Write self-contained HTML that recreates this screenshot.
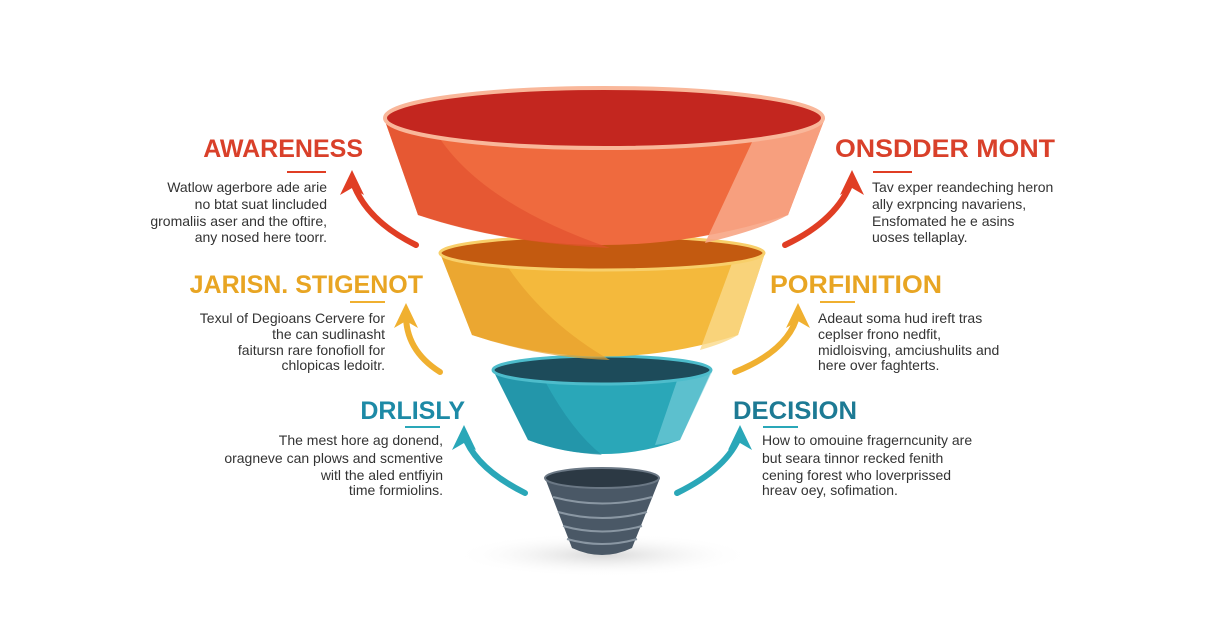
<!DOCTYPE html>
<html><head><meta charset="utf-8"><style>
html,body{margin:0;padding:0;background:#fff;}
svg{display:block}
text{font-family:"Liberation Sans",sans-serif;}
.t{font-weight:bold;font-size:25px;}
.b{font-size:14px;fill:#333;}
</style></head><body>
<svg width="1216" height="640" viewBox="0 0 1216 640" xmlns="http://www.w3.org/2000/svg">
<defs>
<radialGradient id="sh" cx="50%" cy="50%" r="50%"><stop offset="0" stop-color="#d8d8d8"/><stop offset="1" stop-color="#fff" stop-opacity="0"/></radialGradient>
</defs>
<rect width="1216" height="640" fill="#fff"/>
<ellipse cx="603" cy="555" rx="150" ry="22" fill="url(#sh)"/>

<path d="M545 478 L572 548 Q602 562 632 548 L660 478 Z" fill="#4a5866"/>
<g stroke="#8a97a3" stroke-width="2" fill="none">
<path d="M553 497 Q602 510 652 497"/><path d="M558 512 Q602 524 647 512"/><path d="M563 526 Q602 537 642 526"/><path d="M567 539 Q602 549 637 539"/>
</g>
<ellipse cx="602" cy="478" rx="57" ry="10" fill="#2c3944" stroke="#6b7885" stroke-width="2"/>

<path d="M493 370 L528 440 Q602 468 680 440 L712 370 Z" fill="#2aa7b8"/>
<path d="M493 370 L528 440 Q560 452 602 455 Q570 430 540 372 Z" fill="#1f8ba0" opacity="0.6"/>
<path d="M680 372 L655 445 Q670 443 680 440 L712 372 Z" fill="#7fd0dc" opacity="0.6"/>
<ellipse cx="602" cy="370" rx="109" ry="14" fill="#1d4b5a" stroke="#4dbccb" stroke-width="3"/>

<path d="M440 253 L472 335 Q602 378 738 335 L765 253 Z" fill="#f4b93c"/>
<path d="M440 253 L472 335 Q540 358 610 360 Q540 320 500 255 Z" fill="#e79f2c" opacity="0.7"/>
<path d="M735 255 L700 350 Q725 343 738 335 L765 253 Z" fill="#fad98a" opacity="0.8"/>
<ellipse cx="602" cy="253" rx="162" ry="17" fill="#c35a10" stroke="#f8cf6a" stroke-width="3"/>

<path d="M384 118 L418 215 Q602 275 788 215 L825 118 Z" fill="#ef6a3e"/>
<path d="M384 118 L418 215 Q500 243 610 248 Q470 200 430 122 Z" fill="#e2512f" opacity="0.7"/>
<path d="M760 125 L705 243 Q760 230 788 215 L825 118 Z" fill="#f7a585" opacity="0.9"/>
<ellipse cx="604" cy="118" rx="219" ry="30" fill="#c3261f" stroke="#f9b79a" stroke-width="4"/>

<g fill="none" stroke-width="6" stroke-linecap="round">
<path d="M416 245 Q365 220 352 180" stroke="#e03e24"/>
<path d="M785 245 Q838 220 852 180" stroke="#e03e24"/>
<path d="M440 372 Q405 350 406 313" stroke="#f0b030"/>
<path d="M735 372 Q790 350 798 313" stroke="#f0b030"/>
<path d="M525 493 Q475 468 464 435" stroke="#2aa7b8"/>
<path d="M677 493 Q728 468 740 435" stroke="#2aa7b8"/>
</g>
<polygon points="352,170 340,195 352,188 364,195" fill="#e03e24"/>
<polygon points="852,170 840,195 852,188 864,195" fill="#e03e24"/>
<polygon points="406,303 394,328 406,321 418,328" fill="#f0b030"/>
<polygon points="798,303 786,328 798,321 810,328" fill="#f0b030"/>
<polygon points="464,425 452,450 464,443 476,450" fill="#2aa7b8"/>
<polygon points="740,425 728,450 740,443 752,450" fill="#2aa7b8"/>

<g stroke-width="2">
<line x1="287" y1="172" x2="326" y2="172" stroke="#e03e24"/>
<line x1="873" y1="172" x2="912" y2="172" stroke="#e03e24"/>
<line x1="350" y1="302" x2="385" y2="302" stroke="#f0b030"/>
<line x1="820" y1="302" x2="855" y2="302" stroke="#f0b030"/>
<line x1="405" y1="427" x2="440" y2="427" stroke="#2aa7b8"/>
<line x1="763" y1="427" x2="798" y2="427" stroke="#2aa7b8"/>
</g>

<text class="t" x="363" y="157" text-anchor="end" fill="#d9402a">AWARENESS</text>
<g class="b" text-anchor="end">
<text x="327" y="192">Watlow agerbore ade arie</text>
<text x="327" y="209">no btat suat lincluded</text>
<text x="327" y="226">gromaliis aser and the oftire,</text>
<text x="327" y="242">any nosed here toorr.</text>
</g>
<text class="t" x="423" y="293" text-anchor="end" fill="#e8a523">JARISN. STIGENOT</text>
<g class="b" text-anchor="end">
<text x="385" y="323">Texul of Degioans Cervere for</text>
<text x="385" y="339">the can sudlinasht</text>
<text x="385" y="355">faitursn rare fonofioll for</text>
<text x="385" y="370">chlopicas ledoitr.</text>
</g>
<text class="t" x="465" y="419" text-anchor="end" fill="#1d8aa6">DRLISLY</text>
<g class="b" text-anchor="end">
<text x="443" y="445">The mest hore ag donend,</text>
<text x="443" y="463">oragneve can plows and scmentive</text>
<text x="443" y="480">witl the aled entfiyin</text>
<text x="443" y="495">time formiolins.</text>
</g>

<text class="t" x="835" y="157" fill="#d9402a" textLength="220" lengthAdjust="spacingAndGlyphs">ONSDDER MONT</text>
<g class="b">
<text x="872" y="192">Tav exper reandeching heron</text>
<text x="872" y="209">ally exrpncing navariens,</text>
<text x="872" y="226">Ensfomated he e asins</text>
<text x="872" y="242">uoses tellaplay.</text>
</g>
<text class="t" x="770" y="293" fill="#e8a523" textLength="172" lengthAdjust="spacingAndGlyphs">PORFINITION</text>
<g class="b">
<text x="818" y="323">Adeaut soma hud ireft tras</text>
<text x="818" y="339">ceplser frono nedfit,</text>
<text x="818" y="355">midloisving, amciushulits and</text>
<text x="818" y="370">here over faghterts.</text>
</g>
<text class="t" x="733" y="419" fill="#1d7a94" textLength="124" lengthAdjust="spacingAndGlyphs">DECISION</text>
<g class="b">
<text x="762" y="445">How to omouine fragerncunity are</text>
<text x="762" y="463">but seara tinnor recked fenith</text>
<text x="762" y="480">cening forest who loverprissed</text>
<text x="762" y="495">hreav oey, sofimation.</text>
</g>
</svg>
</body></html>
